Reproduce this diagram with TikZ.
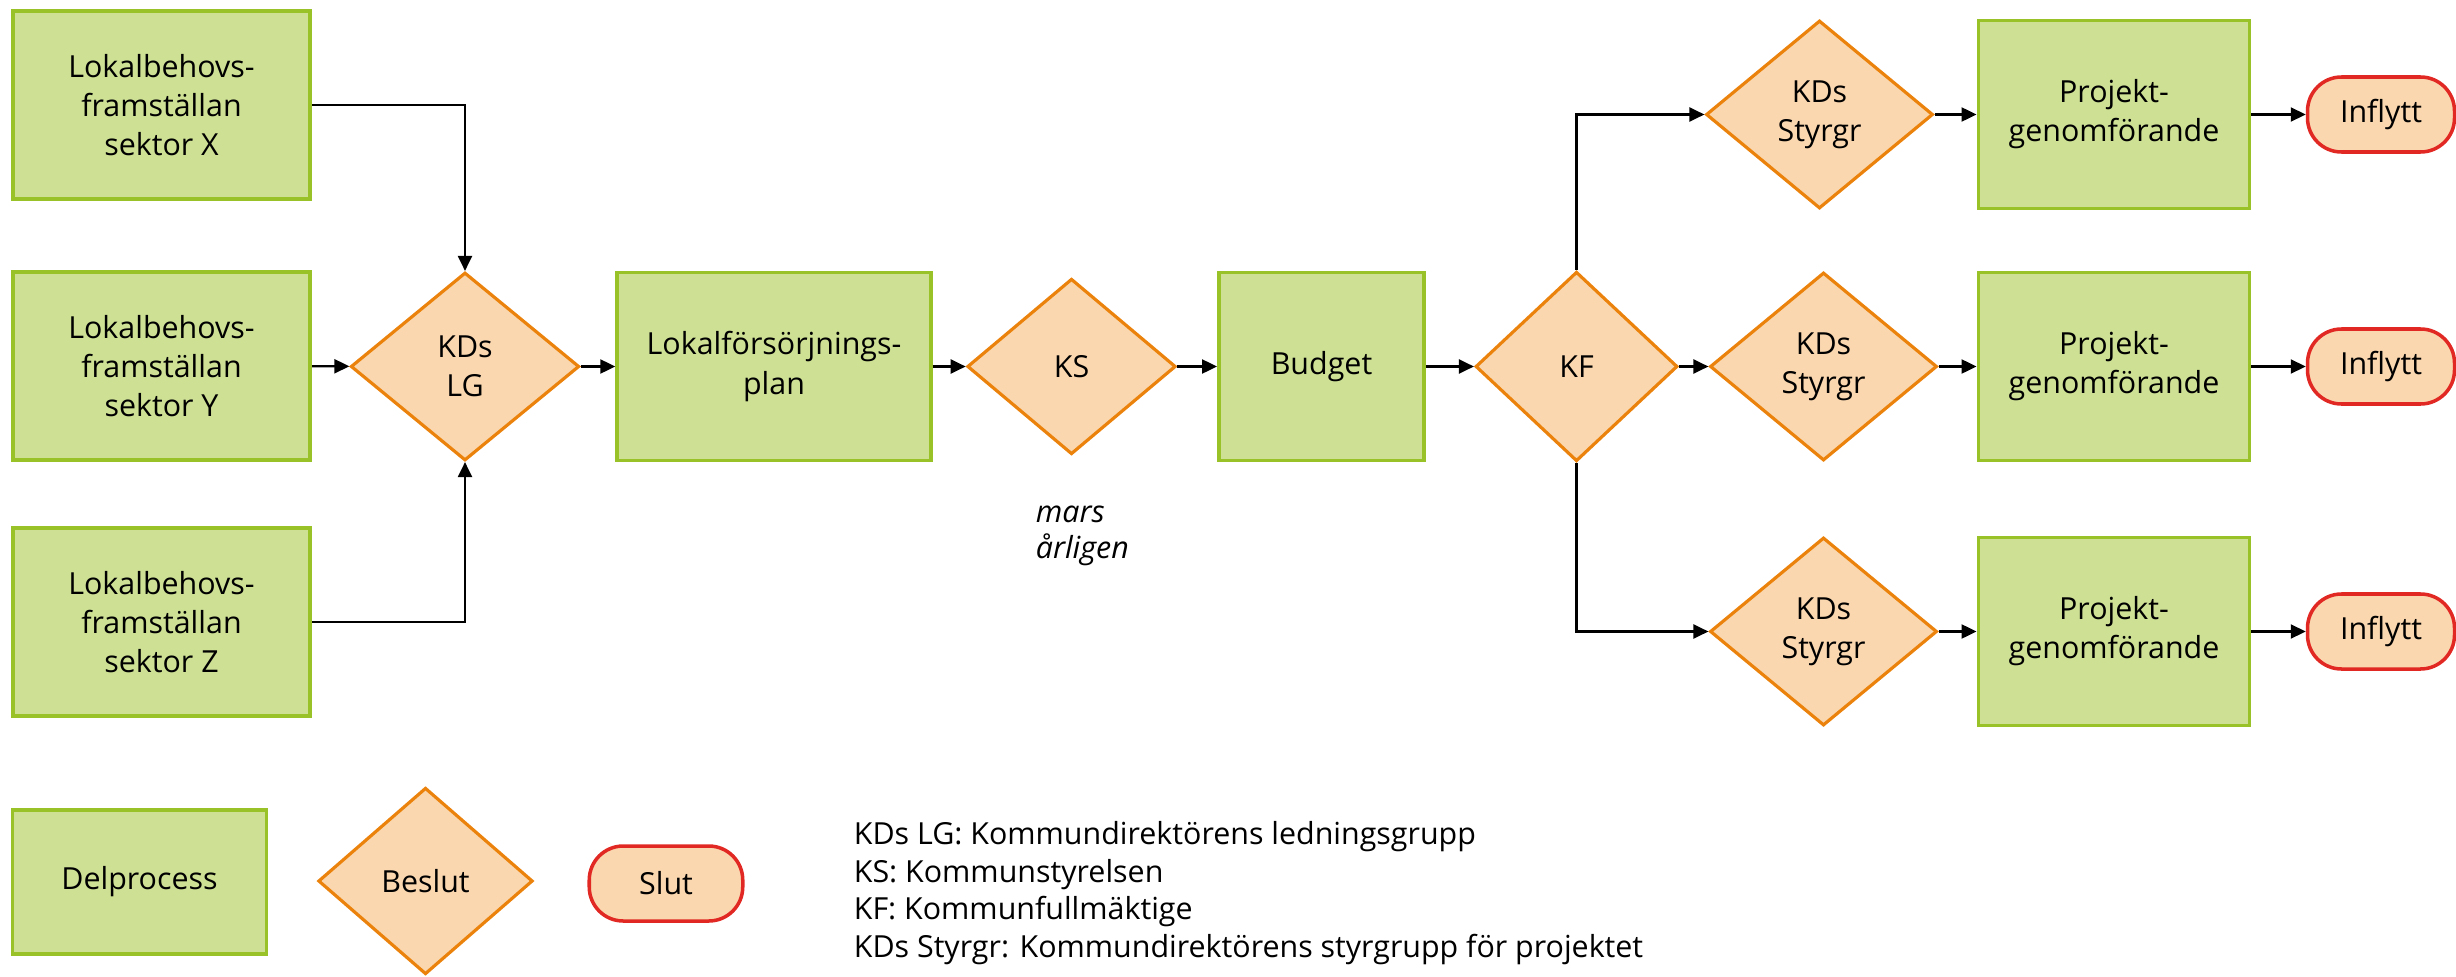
\documentclass[tikz,border=0pt]{standalone}
\usepackage{fontspec}
\setmainfont{Open Sans}
\usetikzlibrary{shapes.geometric, arrows.meta}

\definecolor{delfill}{RGB}{205,224,148}
\definecolor{deldraw}{RGB}{152,194,40}
\definecolor{besfill}{RGB}{250,215,175}
\definecolor{besdraw}{RGB}{234,130,12}
\definecolor{slutdraw}{RGB}{225,40,35}

\begin{document}
\begin{tikzpicture}[
		every node/.style={align=center, inner sep=0pt, font=\fontsize{17.3}{22.3}\selectfont},
		delprocess/.style={rectangle, draw=deldraw, fill=delfill, line width=2.2pt, minimum height=3.76cm},
		beslut/.style={diamond, draw=besdraw, fill=besfill, line width=1.8pt, minimum height=3.76cm},
		slut/.style={rectangle, rounded corners=0.68cm, draw=slutdraw, fill=besfill, line width=2pt, minimum width=2.94cm, minimum height=1.5cm},
		arr/.style={-{Triangle[length=0.3cm, width=0.28cm]}, line width=1.2pt}
	]
  \useasboundingbox (0cm, 0cm) rectangle (49.12cm, -19.54cm);
  % sektorer
  \node (sx) [delprocess, minimum width=5.95cm] at (3.23cm, -2.10cm) {Lokalbehovs-\\framställan\\sektor X};
  \node (sy) [delprocess, minimum width=5.95cm] at (3.23cm, -7.32cm) {Lokalbehovs-\\framställan\\sektor Y};
  \node (sz) [delprocess, minimum width=5.95cm] at (3.23cm, -12.44cm) {Lokalbehovs-\\framställan\\sektor Z};
  \node (lg) [beslut, minimum width=4.57cm] at (9.30cm, -7.33cm) {KDs\\LG};
  \node (plan) [delprocess, minimum width=6.27cm] at (15.48cm, -7.33cm) {Lokalförsörjnings-\\plan};
  \node (ks) [beslut, minimum width=4.17cm, minimum height=3.51cm] at (21.43cm, -7.33cm) {KS};
  \node (tid) [anchor=west, align=left, font=\fontsize{17.3}{20.4}\selectfont\itshape] at (20.71cm, -10.72cm) {mars\\årligen};
  \node (budget) [delprocess, minimum width=4.10cm] at (26.43cm, -7.33cm) {Budget};
  \node (kf) [beslut, minimum width=4.04cm, minimum height=3.79cm] at (31.53cm, -7.33cm) {KF};
  % projekt
  \node (st1) [beslut, minimum width=4.54cm] at (36.39cm, -2.29cm) {KDs\\Styrgr};
  \node (st2) [beslut, minimum width=4.54cm] at (36.47cm, -7.33cm) {KDs\\Styrgr};
  \node (st3) [beslut, minimum width=4.54cm] at (36.47cm, -12.63cm) {KDs\\Styrgr};
  \node (pr1) [delprocess, minimum width=5.42cm] at (42.28cm, -2.29cm) {Projekt-\\genomförande};
  \node (pr2) [delprocess, minimum width=5.42cm] at (42.28cm, -7.33cm) {Projekt-\\genomförande};
  \node (pr3) [delprocess, minimum width=5.42cm] at (42.28cm, -12.63cm) {Projekt-\\genomförande};
  \node (in1) [slut] at (47.62cm, -2.29cm) {Inflytt};
  \node (in2) [slut] at (47.62cm, -7.33cm) {Inflytt};
  \node (in3) [slut] at (47.62cm, -12.63cm) {Inflytt};
  % förklaring
  \node (k_del) [delprocess, minimum width=5.08cm, minimum height=2.88cm] at (2.79cm, -17.64cm) {Delprocess};
  \node (k_bes) [beslut, minimum width=4.29cm, minimum height=3.73cm] at (8.51cm, -17.62cm) {Beslut};
  \node (k_slut) [slut, minimum width=3.07cm] at (13.32cm, -17.67cm) {Slut};
  \node (k_text) [anchor=west, align=left, font=\fontsize{17.3}{21.3}\selectfont] at (17.07cm, -17.86cm) {KDs LG: Kommundirektörens ledningsgrupp\\KS: Kommunstyrelsen\\KF: Kommunfullmäktige\\KDs Styrgr: Kommundirektörens styrgrupp för projektet};
  \draw [arr] (sx.east) -| (lg.north);
  \draw [arr] (sy) -- (lg);
  \draw [arr] (sz.east) -| (lg.south);
  \draw [arr] (lg) -- (plan);
  \draw [arr] (plan) -- (ks);
  \draw [arr] (ks) -- (budget);
  \draw [arr] (budget) -- (kf);
  \draw [arr] (kf.north) |- (st1.west);
  \draw [arr] (kf) -- (st2);
  \draw [arr] (kf.south) |- (st3.west);
  \foreach \i in {1,2,3} {
    \draw [arr] (st\i) -- (pr\i);
    \draw [arr] (pr\i) -- (in\i);
  }
\end{tikzpicture}
\end{document}
